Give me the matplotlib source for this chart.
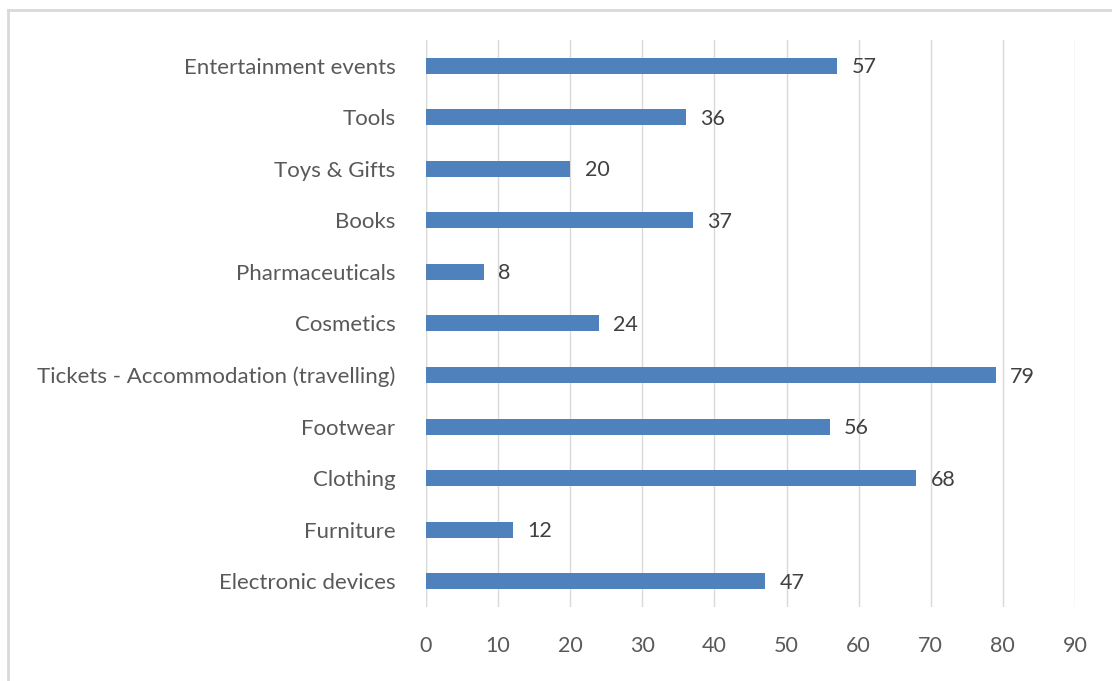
import matplotlib.pyplot as plt
from matplotlib.lines import Line2D

categories = ["Electronic devices", "Furniture", "Clothing", "Footwear",
              "Tickets - Accommodation (travelling)", "Cosmetics",
              "Pharmaceuticals", "Books", "Toys & Gifts", "Tools",
              "Entertainment events"]
values = [47, 12, 68, 56, 79, 24, 8, 37, 20, 36, 57]
xticks = [0, 10, 20, 30, 40, 50, 60, 70, 80, 90]

bar_color = "#4F81BD"
text_color = "#595959"
grid_color = "#D9D9D9"

plt.rcParams["font.family"] = ["Lato", "DejaVu Sans"]

fig = plt.figure(figsize=(11.12, 6.81), dpi=100)
ax = fig.add_axes([0.3831, 0.1087, 0.9667 - 0.3831, 0.9413 - 0.1087])

ypos = list(range(len(categories)))
ax.barh(ypos, values, height=0.31, color=bar_color, zorder=3)
for y, v in zip(ypos, values):
    ax.text(v + 2.0, y - 0.03, str(v), va="center", ha="left",
            fontsize=15.5, color="#404040")

ax.set_xlim(0, 90)
ax.set_ylim(-0.5, len(categories) - 0.5)
ax.set_xticks(xticks)
ax.set_xticklabels([str(t) for t in xticks])
ax.set_yticks(ypos)
ax.set_yticklabels(categories)
ax.tick_params(axis="both", length=0, labelsize=15.5, labelcolor=text_color)
ax.tick_params(axis="x", pad=21)
ax.tick_params(axis="y", pad=22, labelsize=16)
ax.xaxis.grid(True, color=grid_color, lw=1, zorder=0)
for s in ax.spines.values():
    s.set_visible(False)
ax.axvline(0, color=grid_color, lw=1, zorder=1)

# outer chart frame (left and top edges only, the rest runs off the canvas)
fig.add_artist(Line2D([8 / 1112, 8 / 1112], [0, 1 - 10 / 681],
                      transform=fig.transFigure, color="#D9D9D9", lw=2))
fig.add_artist(Line2D([8 / 1112, 1], [1 - 10 / 681, 1 - 10 / 681],
                      transform=fig.transFigure, color="#D9D9D9", lw=2))

fig.savefig("out.png", dpi=100)
